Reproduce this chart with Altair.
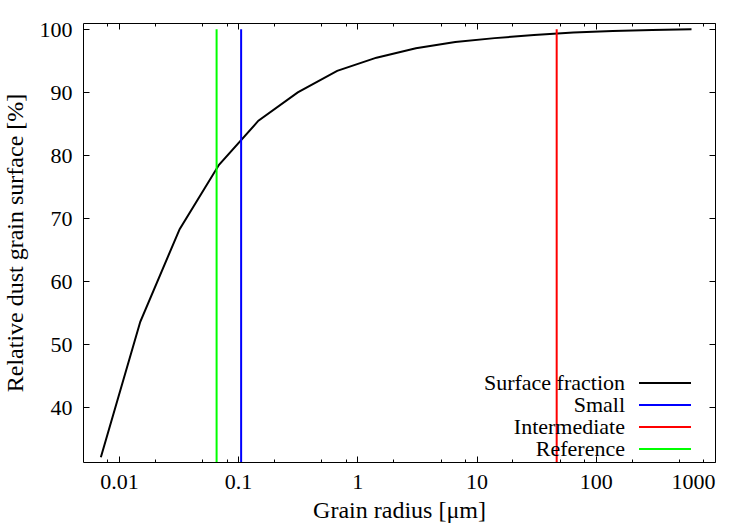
import altair as alt
import pandas as pd

# ---- data ----
radius = [0.00706, 0.01511, 0.03233, 0.06915, 0.1480, 0.3166, 0.6773, 1.448,
          3.099, 6.628, 14.18, 30.34, 64.91, 138.8, 297.1, 635.3]
surface = [32.1, 53.6, 68.3, 78.5, 85.5, 90.0, 93.4, 95.5,
           97.0, 98.0, 98.6, 99.1, 99.5, 99.75, 99.9, 100.0]

rule_names = ["Small", "Intermediate", "Reference"]
rule_radius = [0.106, 47.0, 0.066]
rule_top = 100.0

series_names = ["Surface fraction", "Small", "Intermediate", "Reference"]
series_colors = ["#000000", "#0000ff", "#ff0000", "#00ff00"]

x_major = [0.01, 0.1, 1, 10, 100, 1000]
x_minor = [0.008, 0.02, 0.05, 0.08, 0.2, 0.5, 0.8, 2, 5, 8, 20, 50, 80, 200, 500, 800]
y_ticks = [40, 50, 60, 70, 80, 90, 100]
x_domain = [0.005, 1000]
y_domain = [31.35, 101]

# ---- tables ----
curve_df = pd.DataFrame({"r": radius, "pct": surface, "series": "Surface fraction"})
rule_df = pd.DataFrame({"r": rule_radius, "lo": y_domain[0], "hi": rule_top, "series": rule_names})

W, H = 632, 439
FONT = "Liberation Serif"

xscale = alt.Scale(type="log", domain=x_domain, nice=False)
yscale = alt.Scale(domain=y_domain, nice=False, zero=False)
cscale = alt.Scale(domain=series_names, range=series_colors)

all_x_ticks = sorted(x_major + x_minor)
major_test = "indexof([0.01, 0.1, 1, 10, 100, 1000], datum.value) >= 0"


def tick_axis(orient, offset, values, cond=False):
    kw = dict(orient=orient, offset=offset, values=values, labels=False, domain=False,
              grid=False, title=None, tickColor="black", tickWidth=1)
    if cond:
        kw["tickSize"] = {"condition": {"test": major_test, "value": 6}, "value": 3}
    else:
        kw["tickSize"] = 6
    return alt.Axis(**kw)


line = alt.Chart(curve_df).mark_line(strokeWidth=2, clip=True).encode(
    x=alt.X("r:Q", scale=xscale,
            axis=alt.Axis(orient="bottom", values=x_major, format="~g", tickSize=0,
                          domain=False, grid=False, labelPadding=9,
                          title="Grain radius [μm]", titlePadding=6)),
    y=alt.Y("pct:Q", scale=yscale,
            axis=alt.Axis(orient="left", values=y_ticks, tickSize=0, domain=False,
                          grid=False, labelPadding=11,
                          title="Relative dust grain surface [%]", titlePadding=12)),
    color=alt.Color("series:N", scale=cscale,
                    legend=alt.Legend(orient="none", legendX=571, legendY=349,
                                      title=None, symbolType="M-2.6,0L2.6,0",
                                      symbolSize=400, symbolStrokeWidth=2,
                                      symbolFillColor="transparent",
                                      labelAlign="right",
                                      labelOffset={"expr": "-51"}, labelFontSize=22,
                                      labelFont=FONT, labelColor="black", padding=0,
                                      rowPadding=0, labelLimit=400)),
)

rules = alt.Chart(rule_df).mark_rule(strokeWidth=2).encode(
    x=alt.X("r:Q", scale=xscale, axis=None),
    y=alt.Y("lo:Q", scale=yscale, axis=None),
    y2="hi:Q",
    color=alt.Color("series:N", scale=cscale),
)

ticks_a = alt.Chart(curve_df).mark_line(opacity=0).encode(
    x=alt.X("r:Q", scale=xscale, axis=tick_axis("top", -H, all_x_ticks, cond=True)),
    y=alt.Y("pct:Q", scale=yscale, axis=tick_axis("right", -W, y_ticks)),
)

ticks_b = alt.Chart(curve_df).mark_line(opacity=0).encode(
    x=alt.X("r:Q", scale=xscale, axis=tick_axis("bottom", -H, all_x_ticks, cond=True)),
    y=alt.Y("pct:Q", scale=yscale, axis=tick_axis("left", -W, y_ticks)),
)

chart = alt.layer(line, rules, ticks_a, ticks_b).resolve_axis(
    x="independent", y="independent"
).properties(
    width=W, height=H,
    autosize=alt.AutoSizeParams(type="none"),
    padding={"left": 83, "top": 23, "right": 35, "bottom": 63},
    background="white",
).configure_view(
    stroke="black", strokeWidth=1
).configure_axis(
    labelFont=FONT, labelFontSize=22, labelColor="black",
    titleFont=FONT, titleFontSize=24, titleColor="black", titleFontWeight="normal",
)

chart.save("out.html", embed_options={"renderer": "svg", "actions": False})
